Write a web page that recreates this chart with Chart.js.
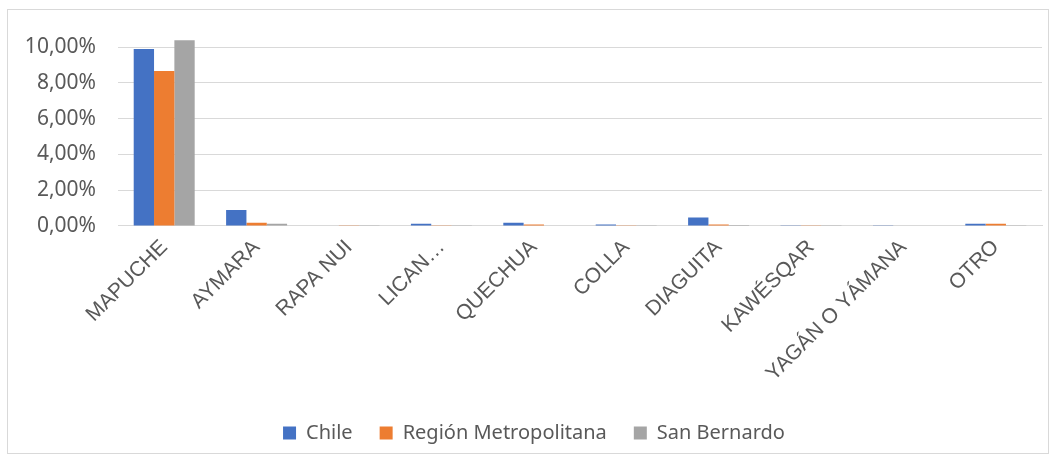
<!DOCTYPE html>
<html>
<head>
<meta charset="utf-8">
<script src="https://cdn.jsdelivr.net/npm/chart.js@4.4.1/dist/chart.umd.min.js"></script>
<style>
  html, body { margin: 0; padding: 0; background: #ffffff; }
  #frame { position: absolute; left: 7px; top: 9px; width: 1042px; height: 445px; border: 1px solid #d9d9d9; box-sizing: border-box; }
  #wrap { position: absolute; left: 0; top: 0; width: 1058px; height: 463px; }
</style>
</head>
<body>
<div id="frame"></div>
<div id="wrap"><canvas id="c" width="1058" height="463"></canvas></div>
<script>
const categories = ["MAPUCHE", "AYMARA", "RAPA NUI", "LICAN…", "QUECHUA", "COLLA", "DIAGUITA", "KAWÉSQAR", "YAGÁN O YÁMANA", "OTRO"];
const seriesNames = ["Chile", "Región Metropolitana", "San Bernardo"];
const chileValues = [9.90, 0.89, 0.03, 0.13, 0.18, 0.08, 0.48, 0.02, 0.01, 0.13];
const rmValues = [8.66, 0.18, 0.02, 0.01, 0.09, 0.01, 0.08, 0.01, 0.00, 0.13];
const sbValues = [10.39, 0.13, 0.02, 0.01, 0.03, 0.01, 0.05, 0.01, 0.00, 0.04];
const yTickValues = [0, 2, 4, 6, 8, 10];
const colors = ["#4472C4", "#ED7D31", "#A5A5A5"];

const textColor = "#595959";
const gridColor = "#d9d9d9";

new Chart(document.getElementById("c"), {
  type: "bar",
  data: {
    labels: categories,
    datasets: [
      { label: seriesNames[0], data: chileValues, backgroundColor: colors[0] },
      { label: seriesNames[1], data: rmValues, backgroundColor: colors[1] },
      { label: seriesNames[2], data: sbValues, backgroundColor: colors[2] }
    ]
  },
  options: {
    responsive: false,
    animation: false,
    devicePixelRatio: 1,
    layout: { padding: { left: 26, right: 16, top: 0, bottom: 10 } },
    datasets: { bar: { categoryPercentage: 0.66, barPercentage: 1.0, borderWidth: 0 } },
    plugins: {
      tooltip: { enabled: false },
      legend: {
        position: "bottom",
        labels: {
          color: textColor,
          font: { family: "'Noto Sans', sans-serif", size: 20 },
          boxWidth: 13,
          boxHeight: 13,
          padding: 27
        }
      }
    },
    scales: {
      x: {
        grid: { display: false, drawTicks: false },
        border: { display: true, color: gridColor, width: 1 },
        ticks: {
          color: textColor,
          font: { family: "'Liberation Sans', Arial, sans-serif", size: 21 },
          maxRotation: 45,
          minRotation: 45,
          autoSkip: false,
          padding: 9
        },
        afterFit: (scale) => { scale.height = 170; }
      },
      y: {
        min: 0,
        max: 10.7,
        grid: { color: gridColor, lineWidth: 1, drawTicks: false },
        border: { display: false },
        afterBuildTicks: (scale) => { scale.ticks = yTickValues.map(v => ({ value: v })); },
        ticks: {
          color: textColor,
          font: { family: "'Noto Sans', sans-serif", size: 21 },
          padding: 22,
          callback: (v) => v.toFixed(2).replace(".", ",") + "%"
        },
        afterFit: (scale) => { scale.width = 92; }
      }
    }
  }
});
</script>
</body>
</html>
